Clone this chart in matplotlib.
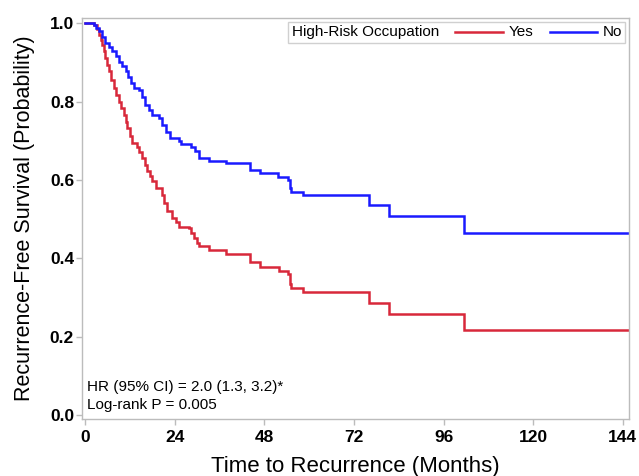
import matplotlib
matplotlib.use("Agg")
import matplotlib.pyplot as plt
from matplotlib.lines import Line2D
from matplotlib.offsetbox import AnchoredOffsetbox, HPacker, TextArea, DrawingArea

plt.rcParams['font.family'] = ['Liberation Sans', 'DejaVu Sans']

# Kaplan-Meier step data (time in months, survival after the step)
yes_time = [0, 2.4, 3.2, 3.7, 4.2, 4.6, 5.0, 5.5, 6.0, 6.4, 7.1, 7.8, 8.4, 9.1, 9.7,
            10.4, 10.9, 11.3, 12.0, 12.7, 14.0, 14.6, 15.3, 16.0, 16.7, 17.4, 18.0,
            18.9, 20.7, 21.3, 22.0, 23.4, 24.5, 25.2, 27.8, 28.5, 29.2, 30.0, 30.5,
            33.2, 37.9, 44.2, 46.8, 51.9, 54.4, 54.8, 55.0, 55.3, 58.4, 76.1, 81.4,
            101.5, 146]
yes_surv = [1.0, 0.995, 0.985, 0.970, 0.958, 0.945, 0.930, 0.911, 0.894, 0.877, 0.855,
            0.834, 0.817, 0.800, 0.783, 0.766, 0.749, 0.732, 0.713, 0.694, 0.685, 0.670,
            0.656, 0.639, 0.622, 0.609, 0.596, 0.579, 0.562, 0.541, 0.520, 0.503, 0.493,
            0.481, 0.476, 0.465, 0.452, 0.440, 0.430, 0.421, 0.412, 0.391, 0.378, 0.367,
            0.361, 0.348, 0.335, 0.323, 0.313, 0.287, 0.258, 0.217, 0.217]

no_time = [0, 2.4, 3.0, 3.7, 4.5, 5.5, 6.4, 7.3, 8.2, 9.1, 10.0, 10.9, 11.6, 12.2, 13.1,
           14.5, 15.3, 16.2, 17.1, 18.0, 19.8, 20.7, 21.6, 22.9, 25.2, 25.6, 28.3, 29.6,
           30.5, 33.2, 37.9, 44.2, 46.8, 51.7, 54.4, 54.8, 55.0, 55.3, 58.4, 76.1, 81.4,
           101.5, 146]
no_surv = [1.0, 0.995, 0.988, 0.979, 0.966, 0.949, 0.938, 0.928, 0.915, 0.902, 0.890,
           0.877, 0.862, 0.847, 0.834, 0.829, 0.812, 0.792, 0.779, 0.766, 0.757, 0.740,
           0.723, 0.707, 0.700, 0.691, 0.683, 0.673, 0.656, 0.649, 0.642, 0.625, 0.617,
           0.608, 0.600, 0.590, 0.580, 0.570, 0.561, 0.536, 0.508, 0.465, 0.465]

x_ticks = [0, 24, 48, 72, 96, 120, 144]
y_ticks = [0.0, 0.2, 0.4, 0.6, 0.8, 1.0]
group_labels = ["Yes", "No"]
legend_title = "High-Risk Occupation"
stats_text = "HR (95% CI) = 2.0 (1.3, 3.2)*\nLog-rank P = 0.005"

RED = '#d8283a'
BLUE = '#1a1aff'
GRAY = '#bcbcbc'

fig = plt.figure(figsize=(6.39, 4.76), dpi=100)
ax = fig.add_axes([0.129, 0.120, 0.855, 0.842])

ax.step(yes_time, yes_surv, where='post', color=RED, lw=1.8, solid_joinstyle='miter')
ax.step(no_time, no_surv, where='post', color=BLUE, lw=1.8, solid_joinstyle='miter')

ax.set_xlim(-0.67, 145.6)
ax.set_ylim(-0.01, 1.013)
ax.set_xticks(x_ticks)
ax.set_xticklabels([str(v) for v in x_ticks])
ax.set_yticks(y_ticks)
ax.set_yticklabels([f"{v:.1f}" for v in y_ticks])
for s in ax.spines.values():
    s.set_color(GRAY)
    s.set_linewidth(1.0)
ax.tick_params(axis='both', colors=GRAY, length=4, width=1.0, labelcolor='black',
               labelsize=12.5)
ax.tick_params(axis='x', pad=4)
ax.tick_params(axis='y', pad=2)
for lab in ax.get_xticklabels() + ax.get_yticklabels():
    lab.set_fontweight('bold')

ax.set_xlabel("Time to Recurrence (Months)", fontsize=16, labelpad=8)
ax.set_ylabel("Recurrence-Free Survival (Probability)", fontsize=15.5, labelpad=11)

ax.text(0.009, 0.018, stats_text, transform=ax.transAxes, fontsize=11,
        ha='left', va='bottom', linespacing=1.3)

# inline legend: title, then red line + Yes, blue line + No
def handle(color):
    da = DrawingArea(34, 8, 0, 0)
    da.add_artist(Line2D([0, 34], [4, 4], color=color, lw=1.8))
    return da

tprops = dict(fontsize=11)
entries = [TextArea(legend_title, textprops=tprops)]
for lab, col in zip(group_labels, [RED, BLUE]):
    entries.append(HPacker(children=[handle(col), TextArea(lab, textprops=tprops)],
                           align='center', pad=0, sep=4))
pack = HPacker(children=entries, align='center', pad=0, sep=12)
anch = AnchoredOffsetbox(loc='upper right', child=pack, pad=0.25, borderpad=0.25,
                         frameon=True, bbox_to_anchor=(1, 1),
                         bbox_transform=ax.transAxes)
anch.patch.set_edgecolor('#d0d0d0')
anch.patch.set_linewidth(1.0)
anch.patch.set_boxstyle('square', pad=0)
ax.add_artist(anch)

fig.savefig("out.png", dpi=100)
